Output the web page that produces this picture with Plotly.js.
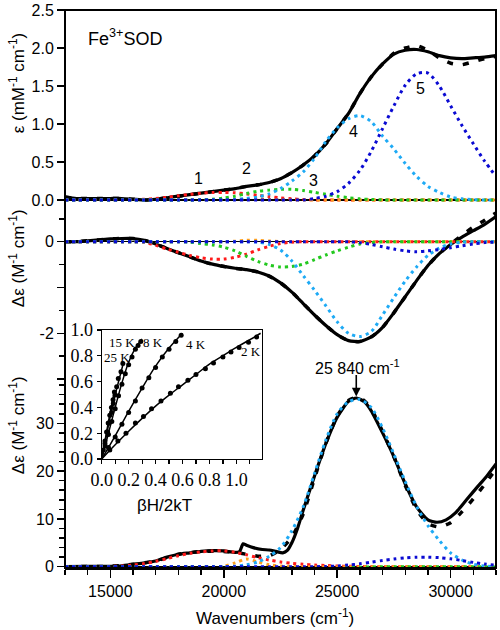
<!DOCTYPE html>
<html><head><meta charset="utf-8">
<script src="https://cdn.plot.ly/plotly-3.0.1.min.js"></script>
<style>html,body{margin:0;padding:0;background:#fff}#chart{width:500px;height:630px}</style>
</head><body><div id="chart"></div>
<script>
// ---------- shared wavenumber grid (cm-1) ----------
const grid = [13000,13500,14000,14500,15000,15500,16000,16500,17000,17500,18000,18500,19000,19500,20000,20500,21000,21500,22000,22500,23000,23500,24000,24500,25000,25500,26000,26500,27000,27500,28000,28500,29000,29500,30000,30500,31000,31500,32000];

// ---------- top panel: absorption (mM-1 cm-1) ----------
const absExp  = [0.04,0.02,0.02,0.02,0.02,0.02,0.01,0.0,0.01,0.03,0.05,0.07,0.09,0.11,0.13,0.15,0.18,0.2,0.23,0.28,0.36,0.46,0.58,0.74,0.94,1.14,1.40,1.62,1.79,1.92,1.97,1.98,1.95,1.90,1.87,1.86,1.87,1.88,1.90];
const absFit  = [0.04,0.02,0.02,0.02,0.02,0.02,0.01,0.0,0.01,0.03,0.05,0.07,0.09,0.11,0.13,0.15,0.18,0.2,0.23,0.28,0.36,0.46,0.58,0.74,0.94,1.14,1.40,1.62,1.79,1.93,2.0,2.03,1.97,1.87,1.80,1.78,1.82,1.86,1.89];
const absB1 = [0,0,0,0,0,0,0.005,0.01,0.02,0.035,0.055,0.075,0.09,0.098,0.1,0.095,0.08,0.062,0.045,0.028,0.015,0.007,0.002,0,0,0,0,0,0,0,0,0,0,0,0,0,0,0,0];
const absB2 = [0,0,0,0,0,0,0,0,0,0,0,0,0,0,0.003,0.008,0.012,0.012,0.008,0.004,0.002,0,0,0,0,0,0,0,0,0,0,0,0,0,0,0,0,0,0];
const absB3 = [0,0,0,0,0,0,0,0,0,0,0,0,0.005,0.01,0.025,0.05,0.085,0.115,0.13,0.14,0.14,0.125,0.1,0.075,0.05,0.03,0.015,0.007,0.002,0,0,0,0,0,0,0,0,0,0];
const absB4 = [0,0,0,0,0,0,0,0,0,0,0,0,0,0,0,0.005,0.02,0.04,0.08,0.15,0.25,0.37,0.55,0.77,0.95,1.07,1.11,1.03,0.84,0.67,0.48,0.31,0.18,0.1,0.04,0.015,0.005,0,0];
const absB5 = [0,0,0,0,0,0,0,0,0,0,0,0,0,0,0,0,0,0,0,0,0,0,0.02,0.05,0.11,0.22,0.39,0.64,0.94,1.24,1.51,1.66,1.67,1.5,1.24,0.98,0.74,0.51,0.31];

// ---------- middle panel: MCD delta-epsilon (M-1 cm-1) ----------
const mcdExp = [0,0,0.02,0.04,0.06,0.07,0.07,0.03,-0.05,-0.15,-0.24,-0.33,-0.42,-0.49,-0.54,-0.58,-0.61,-0.66,-0.75,-0.9,-1.1,-1.35,-1.6,-1.83,-2.03,-2.16,-2.18,-2.08,-1.87,-1.55,-1.2,-0.85,-0.52,-0.26,-0.06,0.1,0.24,0.38,0.55];
const mcdFit = [0,0,0.02,0.04,0.06,0.07,0.07,0.03,-0.05,-0.15,-0.24,-0.33,-0.42,-0.49,-0.54,-0.58,-0.61,-0.66,-0.75,-0.9,-1.1,-1.35,-1.6,-1.83,-2.03,-2.16,-2.18,-2.08,-1.87,-1.55,-1.2,-0.85,-0.52,-0.26,-0.05,0.14,0.32,0.47,0.63];
const mcdB1 = [0,0,0,0,0,0,0,-0.01,-0.08,-0.16,-0.23,-0.3,-0.35,-0.38,-0.38,-0.34,-0.27,-0.18,-0.1,-0.04,-0.01,0,0,0,0,0,0,0,0,0,0,0,0,0,0,0,0,0,0];
const mcdB2 = [0,0,0,0,0,0,0,0,0,0,0,0,0,0,0,0.01,0.03,0.03,0.015,0.005,0,0,0,0,0,0,0,0,0,0,0,0,0,0,0,0,0,0,0];
const mcdB3 = [0,0,0,0,0,0,0,0,0,0,0,-0.01,-0.04,-0.07,-0.12,-0.2,-0.32,-0.43,-0.51,-0.55,-0.54,-0.49,-0.39,-0.29,-0.2,-0.12,-0.05,-0.02,0,0,0,0,0,0,0,0,0,0,0];
const mcdB4 = [0,0,0,0,0,0,0,0,0,0,0,0,0,0,0,0,0,-0.01,-0.06,-0.18,-0.42,-0.74,-1.06,-1.4,-1.75,-2.0,-2.07,-1.96,-1.6,-1.22,-0.86,-0.55,-0.3,-0.14,-0.05,-0.01,0,0,0];
const mcdB5 = [0,0,0,0,0,0,0,0,0,0,0,0,0,0,0,0,0,0,0,0,0,0,0,0,0,0,-0.02,-0.06,-0.11,-0.16,-0.2,-0.22,-0.2,-0.17,-0.13,-0.09,-0.05,-0.02,-0.01];

// ---------- bottom panel: delta-epsilon (M-1 cm-1) ----------
const vtExpX = [13000,14000,15000,15500,16000,16500,17000,17500,18000,18500,19000,19500,20000,20500,20700,20850,21000,21300,21700,22000,22300,22600,22800,23000,23250,23500,24000,24500,25000,25500,25850,26200,26500,27000,27500,28000,28500,29000,29400,29800,30200,30700,31200,31600,32000];
const vtExp  = [0,0.05,0.1,0.2,0.5,0.8,1.2,2.0,2.6,2.9,3.2,3.35,3.3,3.0,3.2,4.8,4.5,4.0,3.6,3.5,3.2,2.9,3.4,5.0,8.0,11.8,19.0,25.8,31.3,34.6,35.3,34.5,32.6,28.0,23.0,17.3,12.5,9.8,9.3,9.8,11.2,14.0,16.8,19.0,21.5];
const vtFitX = [13000,14000,15000,16000,17000,18000,19000,20000,20500,21000,21500,22000,22500,23000,23500,24000,24500,25000,25500,25850,26200,26500,27000,27500,28000,28500,29000,29500,30000,30500,31000,31500,32000];
const vtFit  = [0,0.05,0.1,0.5,1.2,2.6,3.2,3.2,3.0,2.6,2.2,2.3,3.6,6.2,11.0,18.5,25.8,31.5,34.8,35.4,34.7,33.0,28.3,23.0,17.0,12.0,9.0,8.3,9.2,11.5,14.2,17.2,20.5];
const vtB1 = [0,0,0,0,0.05,0.15,0.35,0.65,1.1,1.7,2.3,2.8,3.1,3.3,3.3,3.0,2.5,1.9,1.4,1.0,0.7,0.5,0.35,0.25,0.15,0.1,0.05,0.02,0,0,0,0,0,0,0,0,0,0,0];
const vtB2 = [0,0,0,0,0,0,0,0,0,0,0,0,0,0,0.1,0.8,1.6,1.0,0.4,0.15,0.05,0,0,0,0,0,0,0,0,0,0,0,0,0,0,0,0,0,0];
const vtB3 = [0,0,0,0,0,0,0,0,0,0,0,0,0,0,0,0,-0.2,-0.3,-0.4,-0.45,-0.5,-0.5,-0.45,-0.38,-0.3,-0.2,-0.1,-0.05,0,0,0,0,0,0,0,0,0,0,0];
const vtB4 = [0,0,0,0,0,0,0,0,0,0,0,0,0,0,0,0.1,0.4,1.0,2.2,4.0,7.5,12.5,19.5,26.5,32.0,34.5,35.0,33.3,29.0,23.5,17.8,12.6,8.6,5.5,2.9,1.4,0.5,0.15,0];
const vtB5 = [0,0,0,0,0,0,0,0,0,0,0,0,0,0,0,0,0,0,0,0,0,0,0,0.05,0.15,0.35,0.6,0.95,1.3,1.6,1.85,1.98,2.0,1.9,1.65,1.3,0.9,0.55,0.3];

// ---------- inset: saturation magnetisation vs betaH/2kT ----------
const k2DotX = [0.06,0.12,0.18,0.25,0.31,0.37,0.44,0.51,0.57,0.64,0.70,0.77,0.83,0.90,0.96,1.02,1.09,1.15];
const k2DotY = [0.07,0.14,0.20,0.28,0.33,0.39,0.45,0.51,0.56,0.61,0.655,0.70,0.745,0.79,0.83,0.865,0.905,0.945];
const k2FitX = [0,0.1,0.2,0.3,0.4,0.5,0.6,0.7,0.8,0.9,1.0,1.1,1.18];
const k2FitY = [0,0.11,0.215,0.315,0.41,0.495,0.575,0.655,0.735,0.80,0.865,0.925,0.975];
const k4DotX = [0.05,0.1,0.15,0.2,0.25,0.3,0.35,0.4,0.45,0.5,0.55,0.59];
const k4DotY = [0.09,0.17,0.27,0.36,0.45,0.55,0.63,0.71,0.79,0.85,0.91,0.96];
const k4FitX = [0,0.1,0.2,0.3,0.4,0.5,0.6];
const k4FitY = [0,0.18,0.37,0.55,0.72,0.86,0.975];
const k8DotX = [0.025,0.05,0.075,0.1,0.125,0.15,0.175,0.2,0.225,0.25,0.27,0.29];
const k8DotY = [0.1,0.19,0.29,0.39,0.49,0.58,0.66,0.73,0.79,0.85,0.88,0.91];
const k8FitX = [0,0.05,0.1,0.15,0.2,0.25,0.3];
const k8FitY = [0,0.2,0.4,0.59,0.75,0.86,0.93];
const k15DotX = [0.024,0.044,0.054,0.074,0.086,0.099,0.111,0.123,0.143,0.157];
const k15DotY = [0.12,0.21,0.277,0.36,0.43,0.496,0.56,0.625,0.677,0.74];
const k15FitX = [0,0.04,0.08,0.12,0.16];
const k15FitY = [0,0.21,0.41,0.58,0.74];
const k25DotX = [0.012,0.024,0.036,0.048,0.06,0.072,0.084,0.094];
const k25DotY = [0.07,0.14,0.21,0.28,0.34,0.4,0.46,0.52];
const k25FitX = [0,0.05,0.095];
const k25FitY = [0,0.29,0.53];

// ---------- styling ----------
const cRed='#ff1a1a', cOrange='#ffa01e', cGreen='#22c81e', cLBlue='#1eaaf5', cDBlue='#0a0ad2';
const DOT='3px,4px';
const traces=[];
function exp(x,y,ya){traces.push({x:x,y:y,yaxis:ya,xaxis:'x',mode:'lines',line:{color:'#000',width:3.2,shape:'spline',smoothing:0.6},hoverinfo:'skip'});}
function fit(x,y,ya){traces.push({x:x,y:y,yaxis:ya,xaxis:'x',mode:'lines',line:{color:'#000',width:3.5,dash:'6px,10px',shape:'spline',smoothing:0.6},hoverinfo:'skip'});}
function comp(y,c,ya){traces.push({x:grid,y:y,yaxis:ya,xaxis:'x',mode:'lines',line:{color:c,width:3,dash:DOT,shape:'spline',smoothing:0.8},hoverinfo:'skip'});}
exp(grid,absExp,'y'); fit(grid,absFit,'y');
[[absB1,cRed],[absB2,cOrange],[absB3,cGreen],[absB4,cLBlue],[absB5,cDBlue]].forEach(p=>comp(p[0],p[1],'y'));
exp(grid,mcdExp,'y2'); fit(grid,mcdFit,'y2');
[[mcdB1,cRed],[mcdB2,cOrange],[mcdB3,cGreen],[mcdB4,cLBlue],[mcdB5,cDBlue]].forEach(p=>comp(p[0],p[1],'y2'));
exp(vtExpX,vtExp,'y3'); fit(vtFitX,vtFit,'y3');
[[vtB1,cRed],[vtB2,cOrange],[vtB3,cGreen],[vtB4,cLBlue],[vtB5,cDBlue]].forEach(p=>comp(p[0],p[1],'y3'));

function ins(fx,fy,dx,dy){
  traces.push({x:fx,y:fy,xaxis:'x2',yaxis:'y4',mode:'lines',line:{color:'#000',width:1.5,shape:'spline'},hoverinfo:'skip'});
  traces.push({x:dx,y:dy,xaxis:'x2',yaxis:'y4',mode:'markers',marker:{color:'#000',size:5},hoverinfo:'skip'});
}
ins(k2FitX,k2FitY,k2DotX,k2DotY);
ins(k4FitX,k4FitY,k4DotX,k4DotY);
ins(k8FitX,k8FitY,k8DotX,k8DotY);
ins(k15FitX,k15FitY,k15DotX,k15DotY);
ins(k25FitX,k25FitY,k25DotX,k25DotY);

const SANS='Liberation Sans, Arial, sans-serif';
const SERIF='Liberation Serif, Times New Roman, serif';
const yCommon={ticks:'outside',ticklen:7,tickwidth:1.5,tickcolor:'#000',showgrid:false,showline:false,zeroline:true,zerolinecolor:'#000',zerolinewidth:1.5,tickfont:{size:16,family:SANS,color:'#000'},anchor:'x'};

function A(o){return Object.assign({xanchor:'center',yanchor:'middle',showarrow:false},o);}
const layout={
  width:500,height:630,margin:{l:65,r:4,t:10,b:62},
  paper_bgcolor:'#fff',plot_bgcolor:'rgba(0,0,0,0)',showlegend:false,
  font:{family:SANS,color:'#000',size:16},
  xaxis:{domain:[0,1],anchor:'y3',range:[13000,32000],tick0:0,dtick:5000,tickformat:'d',ticks:'outside',ticklen:8,tickwidth:1.5,tickcolor:'#000',
    minor:{dtick:1000,tick0:0,ticks:'outside',ticklen:5,tickwidth:1.5,tickcolor:'#000'},
    showline:true,linewidth:2,linecolor:'#000',showgrid:false,zeroline:false,tickfont:{size:16,family:SANS}},
  yaxis:Object.assign({},yCommon,{domain:[0.6505,1],range:[-0.066,2.5],dtick:0.5,tick0:0,tickformat:'.1f'}),
  yaxis2:Object.assign({},yCommon,{domain:[0.3369,0.6505],range:[-3.02,0.801],tickmode:'array',tickvals:[-3,-2,-1,0],ticktext:['','-2','','0'],
    minor:{tickmode:'array',tickvals:[0.5,-0.5,-1.5,-2.5],ticks:'outside',ticklen:5,tickwidth:1.5,tickcolor:'#000'}}),
  yaxis3:Object.assign({},yCommon,{domain:[0,0.3369],range:[-0.27,39.06],dtick:10,tick0:0,
    minor:{dtick:2,tick0:0,ticks:'outside',ticklen:5,tickwidth:1.5,tickcolor:'#000'}}),
  xaxis2:{domain:[0.0852,0.457],anchor:'y4',range:[0,1.19],tickmode:'array',
    tickvals:[0,0.1,0.2,0.3,0.4,0.5,0.6,0.7,0.8,0.9,1.0,1.1],
    ticktext:['0.0','','0.2','','0.4','','0.6','','0.8','','1.0',''],
    ticks:'outside',ticklen:4,tickwidth:1.2,tickcolor:'#000',showline:true,mirror:true,linewidth:1.2,linecolor:'#000',showgrid:false,zeroline:false,
    tickfont:{size:18,family:SERIF,color:'#000'}},
  yaxis4:{domain:[0.1953,0.4265],anchor:'x2',range:[0,1.0],dtick:0.2,tick0:0,tickformat:'.1f',
    ticks:'outside',ticklen:4,tickwidth:1.2,tickcolor:'#000',showline:true,mirror:true,linewidth:1.2,linecolor:'#000',showgrid:false,zeroline:false,
    tickfont:{size:18,family:SERIF,color:'#000'}},
  shapes:[{type:'rect',xref:'paper',yref:'paper',x0:0,x1:1,y0:0,y1:1,line:{color:'#000',width:2}}],
  annotations:[
    A({xref:'paper',yref:'paper',x:0.0487,y:0.9516,xanchor:'left',text:'Fe<sup>3+</sup>SOD',font:{size:18,family:SANS}}),
    A({xref:'paper',yref:'paper',x:-0.111,y:0.869,textangle:-90,text:'ε (mM<sup>-1</sup> cm<sup>-1</sup>)',font:{size:17,family:SANS}}),
    A({xref:'paper',yref:'paper',x:-0.111,y:0.5556,textangle:-90,text:'Δε (M<sup>-1</sup> cm<sup>-1</sup>)',font:{size:17,family:SANS}}),
    A({xref:'paper',yref:'paper',x:-0.111,y:0.2563,textangle:-90,text:'Δε (M<sup>-1</sup> cm<sup>-1</sup>)',font:{size:17,family:SANS}}),
    A({xref:'paper',yref:'paper',x:0.488,y:-0.0878,text:'Wavenumbers (cm<sup>-1</sup>)',font:{size:17,family:SANS}}),
    A({xref:'x',yref:'y',x:18876,y:0.285,text:'1',font:{size:16}}),
    A({xref:'x',yref:'y',x:21010,y:0.417,text:'2',font:{size:16}}),
    A({xref:'x',yref:'y',x:23945,y:0.263,text:'3',font:{size:16}}),
    A({xref:'x',yref:'y',x:25710,y:0.9,text:'4',font:{size:16}}),
    A({xref:'x',yref:'y',x:28680,y:1.47,text:'5',font:{size:16}}),
    A({xref:'paper',yref:'paper',x:0.6783,y:0.3602,text:'25 840 cm<sup>-1</sup>',font:{size:16}}),
    {xref:'x',yref:'y3',x:25840,y:35.6,ax:0,ay:-23,showarrow:true,arrowhead:2,arrowsize:1.1,arrowwidth:1.6,arrowcolor:'#000',text:''},
    A({xref:'paper',yref:'paper',x:0.231,y:0.1129,text:'βH/2kT',font:{size:17,family:SANS}}),
    A({xref:'x2',yref:'y4',x:0.154,y:0.905,text:'15 K',font:{size:13,family:SERIF}}),
    A({xref:'x2',yref:'y4',x:0.382,y:0.905,text:'8 K',font:{size:13,family:SERIF}}),
    A({xref:'x2',yref:'y4',x:0.112,y:0.79,text:'25 K',font:{size:13,family:SERIF}}),
    A({xref:'x2',yref:'y4',x:0.697,y:0.884,text:'4 K',font:{size:13,family:SERIF}}),
    A({xref:'x2',yref:'y4',x:1.105,y:0.832,text:'2 K',font:{size:13,family:SERIF}})
  ]
};
Plotly.newPlot('chart',traces,layout,{staticPlot:true,displayModeBar:false});
</script></body></html>
